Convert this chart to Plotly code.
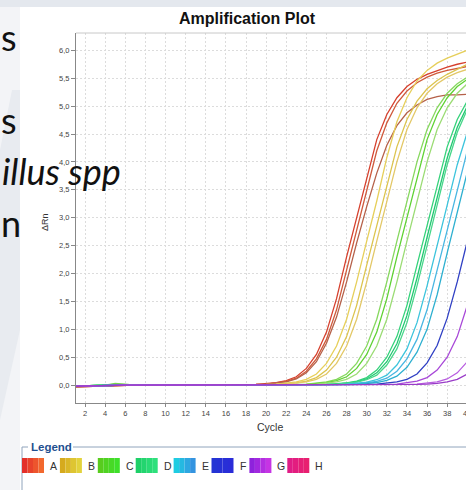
import plotly.graph_objects as go

# ---------------- data ----------------
cycles = list(range(1, 41))

A1 = [-0.03,-0.025,-0.02,-0.01,0,0,0,0,0,0,0,0,0,0,0,0.005,0.008,0.01,0.015,0.025,0.045,0.08,0.15,0.30,0.55,0.95,1.55,2.30,3.00,3.75,4.40,4.85,5.15,5.35,5.48,5.57,5.64,5.70,5.75,5.79]
A2 = [-0.03,-0.025,-0.02,-0.01,0,0,0,0,0,0,0,0,0,0,0,0.004,0.006,0.008,0.012,0.02,0.038,0.068,0.125,0.25,0.47,0.82,1.35,2.05,2.80,3.50,4.20,4.70,5.05,5.27,5.42,5.52,5.59,5.64,5.68,5.71]
A3 = [-0.03,-0.025,-0.02,-0.01,0,0,0,0,0,0,0,0,0,0,0,0.004,0.006,0.008,0.012,0.02,0.035,0.06,0.11,0.22,0.42,0.75,1.22,1.85,2.55,3.20,3.80,4.30,4.65,4.88,5.02,5.12,5.17,5.20,5.20,5.21]
B1 = [-0.02,-0.02,-0.015,-0.01,0,0,0,0,0,0,0,0,0,0,0,0,0.004,0.007,0.009,0.012,0.019,0.032,0.058,0.105,0.20,0.39,0.70,1.18,1.85,2.58,3.30,4.08,4.72,5.15,5.45,5.64,5.77,5.86,5.93,6.00]
B2 = [-0.02,-0.02,-0.015,-0.01,0,0,0,0,0,0,0,0,0,0,0,0,0.003,0.005,0.007,0.010,0.014,0.023,0.041,0.072,0.135,0.27,0.50,0.87,1.43,2.15,2.86,3.60,4.27,4.76,5.09,5.31,5.46,5.57,5.66,5.75]
B3 = [-0.02,-0.02,-0.015,-0.01,0,0,0,0,0,0,0,0,0,0,0,0,0.003,0.004,0.006,0.009,0.012,0.019,0.032,0.058,0.105,0.20,0.39,0.70,1.18,1.85,2.58,3.30,4.00,4.58,4.97,5.23,5.40,5.52,5.60,5.66]
C1 = [-0.02,-0.015,-0.01,0,0.03,0.01,0,0,0,0,0,0,0,0,0,0,0,0,0,0.003,0.006,0.009,0.012,0.019,0.032,0.058,0.105,0.20,0.39,0.70,1.18,1.85,2.58,3.30,4.00,4.58,4.97,5.23,5.40,5.52]
C2 = [-0.02,-0.015,-0.01,0,0.02,0.01,0,0,0,0,0,0,0,0,0,0,0,0,0,0.003,0.005,0.007,0.010,0.015,0.025,0.045,0.08,0.15,0.30,0.55,0.95,1.55,2.30,3.00,3.75,4.40,4.85,5.15,5.35,5.48]
C3 = [-0.02,-0.015,-0.01,0,0.01,0,0,0,0,0,0,0,0,0,0,0,0,0,0,0.002,0.004,0.006,0.009,0.012,0.019,0.032,0.058,0.105,0.20,0.39,0.70,1.18,1.85,2.58,3.30,4.00,4.58,4.97,5.23,5.40]
D1 = [-0.02,-0.015,-0.01,0,0.01,0,0,0,0,0,0,0,0,0,0,0,0,0,0,0,0.002,0.003,0.005,0.007,0.010,0.014,0.023,0.041,0.072,0.135,0.27,0.50,0.87,1.43,2.15,2.86,3.60,4.27,4.76,5.09]
D2 = [-0.02,-0.015,-0.01,0,0.01,0,0,0,0,0,0,0,0,0,0,0,0,0,0,0,0.002,0.003,0.004,0.006,0.009,0.012,0.020,0.034,0.06,0.11,0.22,0.42,0.74,1.25,1.92,2.65,3.37,4.07,4.62,5.00]
D3 = [-0.02,-0.015,-0.01,0,0.01,0,0,0,0,0,0,0,0,0,0,0,0,0,0,0,0.002,0.003,0.004,0.005,0.008,0.011,0.018,0.030,0.053,0.097,0.18,0.36,0.65,1.12,1.78,2.50,3.20,3.95,4.53,4.94]
E1 = [-0.02,-0.015,-0.01,0,0,0,0,0,0,0,0,0,0,0,0,0,0,0,0,0,0,0,0.002,0.003,0.005,0.008,0.011,0.018,0.030,0.053,0.097,0.18,0.36,0.65,1.12,1.78,2.50,3.20,3.95,4.53]
E2 = [-0.02,-0.015,-0.01,0,0,0,0,0,0,0,0,0,0,0,0,0,0,0,0,0,0,0,0.002,0.003,0.004,0.006,0.009,0.013,0.021,0.038,0.068,0.125,0.25,0.47,0.82,1.35,2.05,2.80,3.50,4.20]
E3 = [-0.02,-0.015,-0.01,0,0,0,0,0,0,0,0,0,0,0,0,0,0,0,0,0,0,0,0.001,0.002,0.003,0.005,0.007,0.010,0.016,0.027,0.047,0.085,0.16,0.32,0.59,1.00,1.62,2.37,3.08,3.82]
F1 = [-0.02,-0.015,-0.01,0,0,0,0,0,0,0,0,0,0,0,0,0,0,0,0,0,0,0,0,0,0,0.002,0.004,0.006,0.009,0.013,0.019,0.032,0.058,0.105,0.20,0.40,0.71,1.20,1.85,2.58]
G1 = [-0.02,-0.015,-0.01,0,0,0,0,0,0,0,0,0,0,0,0,0,0,0,0,0,0,0,0,0,0,0,0,0.002,0.004,0.006,0.009,0.013,0.02,0.041,0.072,0.135,0.27,0.50,0.87,1.43]
G2 = [-0.02,-0.015,-0.01,0,0,0,0,0,0,0,0,0,0,0,0,0,0,0,0,0,0,0,0,0,0,0,0,0,0,0.002,0.004,0.006,0.009,0.013,0.02,0.034,0.06,0.11,0.22,0.42]
G3 = [-0.02,-0.015,-0.01,0,0,0,0,0,0,0,0,0,0,0,0,0,0,0,0,0,0,0,0,0,0,0,0,0,0,0,0.002,0.004,0.006,0.009,0.013,0.02,0.032,0.058,0.105,0.20]

series = [
    ("A", A1, "#d6402e"), ("A", A2, "#cf5a3c"), ("A", A3, "#b5614a"),
    ("B", B1, "#e6cf5a"), ("B", B2, "#dcc44e"), ("B", B3, "#e3c867"),
    ("C", C1, "#86d85e"), ("C", C2, "#5fd233"), ("C", C3, "#9bdc74"),
    ("D", D1, "#34d27a"), ("D", D2, "#22c872"), ("D", D3, "#48d68a"),
    ("E", E1, "#3cc4dc"), ("E", E2, "#48b6e2"), ("E", E3, "#2eb0d0"),
    ("F", F1, "#3040c4"),
    ("G", G1, "#a848d8"), ("G", G2, "#b85ce0"), ("G", G3, "#9a3cc8"),
]

x_ticks = list(range(2, 41, 2))
y_ticks = [i * 0.5 for i in range(13)]

legend_labels = ["A", "B", "C", "D", "E", "F", "G", "H"]
legend_colors = [("#e3302a", "#f2682e"), ("#d6aa1e", "#e2d23c"), ("#58cc1e", "#3ee02a"),
                 ("#1ed068", "#2ee07c"), ("#1ecce2", "#3494e0"), ("#2434d4", "#2a2cd8"),
                 ("#8e22dc", "#c634e4"), ("#e01c86", "#e82070")]

# ---------------- layout geometry ----------------
W, H = 466, 490
L, R, T, B = 76, 0, 33, 87
PW, PH = W - L - R, H - T - B

def px(x):
    return (x - L) / PW

def py(y):
    return (H - B - y) / PH

fig = go.Figure()
for name, vals, col in series:
    fig.add_trace(go.Scatter(x=cycles[:len(vals)], y=vals, mode="lines", name=name,
                             line=dict(color=col, width=1.3), showlegend=False,
                             hoverinfo="skip"))

shapes = []
annotations = []

# slide background bits (left and top)
shapes.append(dict(type="rect", xref="paper", yref="paper", x0=px(0), x1=px(W), y0=py(0), y1=py(7),
                   fillcolor="#e4e8ee", line=dict(width=0), layer="below"))
shapes.append(dict(type="path", xref="paper", yref="paper",
                   path=f"M {px(0)} {py(7)} L {px(20)} {py(7)} L {px(20)} {py(490)} L {px(0)} {py(490)} Z",
                   fillcolor="#f3f4f7", line=dict(width=0), layer="below"))
shapes.append(dict(type="path", xref="paper", yref="paper",
                   path=f"M {px(0)} {py(150)} L {px(12)} {py(90)} L {px(20)} {py(90)} L {px(20)} {py(330)} L {px(0)} {py(420)} Z",
                   fillcolor="#e8ebf0", line=dict(width=0), layer="below"))
# white chart panel
shapes.append(dict(type="rect", xref="paper", yref="paper", x0=px(20), x1=px(W), y0=py(7), y1=py(490),
                   fillcolor="white", line=dict(width=0), layer="below"))

# top border of plot
shapes.append(dict(type="line", xref="paper", yref="paper", x0=0, x1=1, y0=1, y1=1,
                   line=dict(color="#c8c8c8", width=1)))

# Legend frame
frame_col = "#90a4bc"
shapes.append(dict(type="line", xref="paper", yref="paper", x0=px(22), x1=px(28), y0=py(447), y1=py(447),
                   line=dict(color=frame_col, width=1)))
shapes.append(dict(type="line", xref="paper", yref="paper", x0=px(73), x1=px(W), y0=py(447), y1=py(447),
                   line=dict(color=frame_col, width=1)))
shapes.append(dict(type="line", xref="paper", yref="paper", x0=px(22), x1=px(22), y0=py(447), y1=py(490),
                   line=dict(color=frame_col, width=1)))
annotations.append(dict(text="<b>Legend</b>", xref="paper", yref="paper", x=px(29), y=py(447),
                        xanchor="left", yanchor="middle", showarrow=False,
                        font=dict(family="Liberation Sans", size=11.5, color="#1f4f8f")))

x0 = 22
for i, (lab, (c1, c2)) in enumerate(zip(legend_labels, legend_colors)):
    left = x0 + i * 37.9
    nstrip = 4
    for k in range(nstrip):
        t = k / (nstrip - 1)
        r1, g1, b1 = int(c1[1:3], 16), int(c1[3:5], 16), int(c1[5:7], 16)
        r2, g2, b2 = int(c2[1:3], 16), int(c2[3:5], 16), int(c2[5:7], 16)
        col = "#%02x%02x%02x" % (round(r1 + (r2 - r1) * t), round(g1 + (g2 - g1) * t), round(b1 + (b2 - b1) * t))
        shapes.append(dict(type="rect", xref="paper", yref="paper",
                           x0=px(left + k * 22 / nstrip), x1=px(left + (k + 1) * 22 / nstrip),
                           y0=py(473), y1=py(458), fillcolor=col, line=dict(width=0)))
    annotations.append(dict(text=lab, xref="paper", yref="paper", x=px(left + 26), y=py(465.5),
                            xanchor="left", yanchor="middle", showarrow=False,
                            font=dict(family="Liberation Sans", size=10.5, color="#333333")))

# slide text overlaid (left side)
slide_font = dict(family="Lato", size=36, color="#111111")
annotations.append(dict(text="s", xref="paper", yref="paper", x=px(-1), y=py(37), xanchor="left",
                        yanchor="middle", showarrow=False, font=slide_font))
annotations.append(dict(text="s", xref="paper", yref="paper", x=px(-1), y=py(120), xanchor="left",
                        yanchor="middle", showarrow=False, font=slide_font))
annotations.append(dict(text="<i>illus spp</i>", xref="paper", yref="paper", x=px(123), y=py(171),
                        xanchor="right", yanchor="middle", showarrow=False, font=slide_font))
annotations.append(dict(text="n", xref="paper", yref="paper", x=px(-1), y=py(223), xanchor="left",
                        yanchor="middle", showarrow=False, font=slide_font))

# partially visible last tick label at the cropped right edge
annotations.append(dict(text="40", xref="paper", yref="paper", x=px(467), y=py(413), xanchor="center",
                        yanchor="middle", showarrow=False,
                        font=dict(family="Liberation Sans", size=7.5, color="#444444")))

# axis titles
annotations.append(dict(text="Cycle", xref="paper", yref="paper", x=px(270), y=py(427),
                        xanchor="center", yanchor="middle", showarrow=False,
                        font=dict(family="Liberation Sans", size=10.5, color="#333333")))
annotations.append(dict(text="ΔRn", xref="paper", yref="paper", x=px(45), y=py(222),
                        xanchor="center", yanchor="middle", showarrow=False, textangle=-90,
                        font=dict(family="Liberation Sans", size=9, color="#333333")))

fig.update_layout(
    width=W, height=H,
    margin=dict(l=L, r=R, t=T, b=B),
    paper_bgcolor="white", plot_bgcolor="white",
    separators=",.",
    title=dict(text="<b>Amplification Plot</b>", x=247 / W, xref="container", xanchor="center",
               y=1 - 18 / H, yref="container", yanchor="middle",
               font=dict(family="Liberation Sans", size=16, color="#111111")),
    shapes=shapes, annotations=annotations,
    xaxis=dict(range=[1.1, 39.87], tickvals=x_ticks, ticks="outside", ticklen=3,
               tickcolor="#888888", showline=True, linecolor="#888888", linewidth=1,
               showgrid=True, gridcolor="#dcdcdc", griddash="2px,2px", zeroline=False,
               tickfont=dict(family="Liberation Sans", size=7.5, color="#444444")),
    yaxis=dict(range=[-0.32, 6.31], tickvals=y_ticks, tickformat=".1f",
               ticks="outside", ticklen=4, tickcolor="#888888", showline=True, linecolor="#888888",
               linewidth=1, showgrid=True, gridcolor="#dcdcdc", griddash="2px,2px", zeroline=False,
               tickfont=dict(family="Liberation Sans", size=7.5, color="#444444")),
)

fig.write_html("out.html")
